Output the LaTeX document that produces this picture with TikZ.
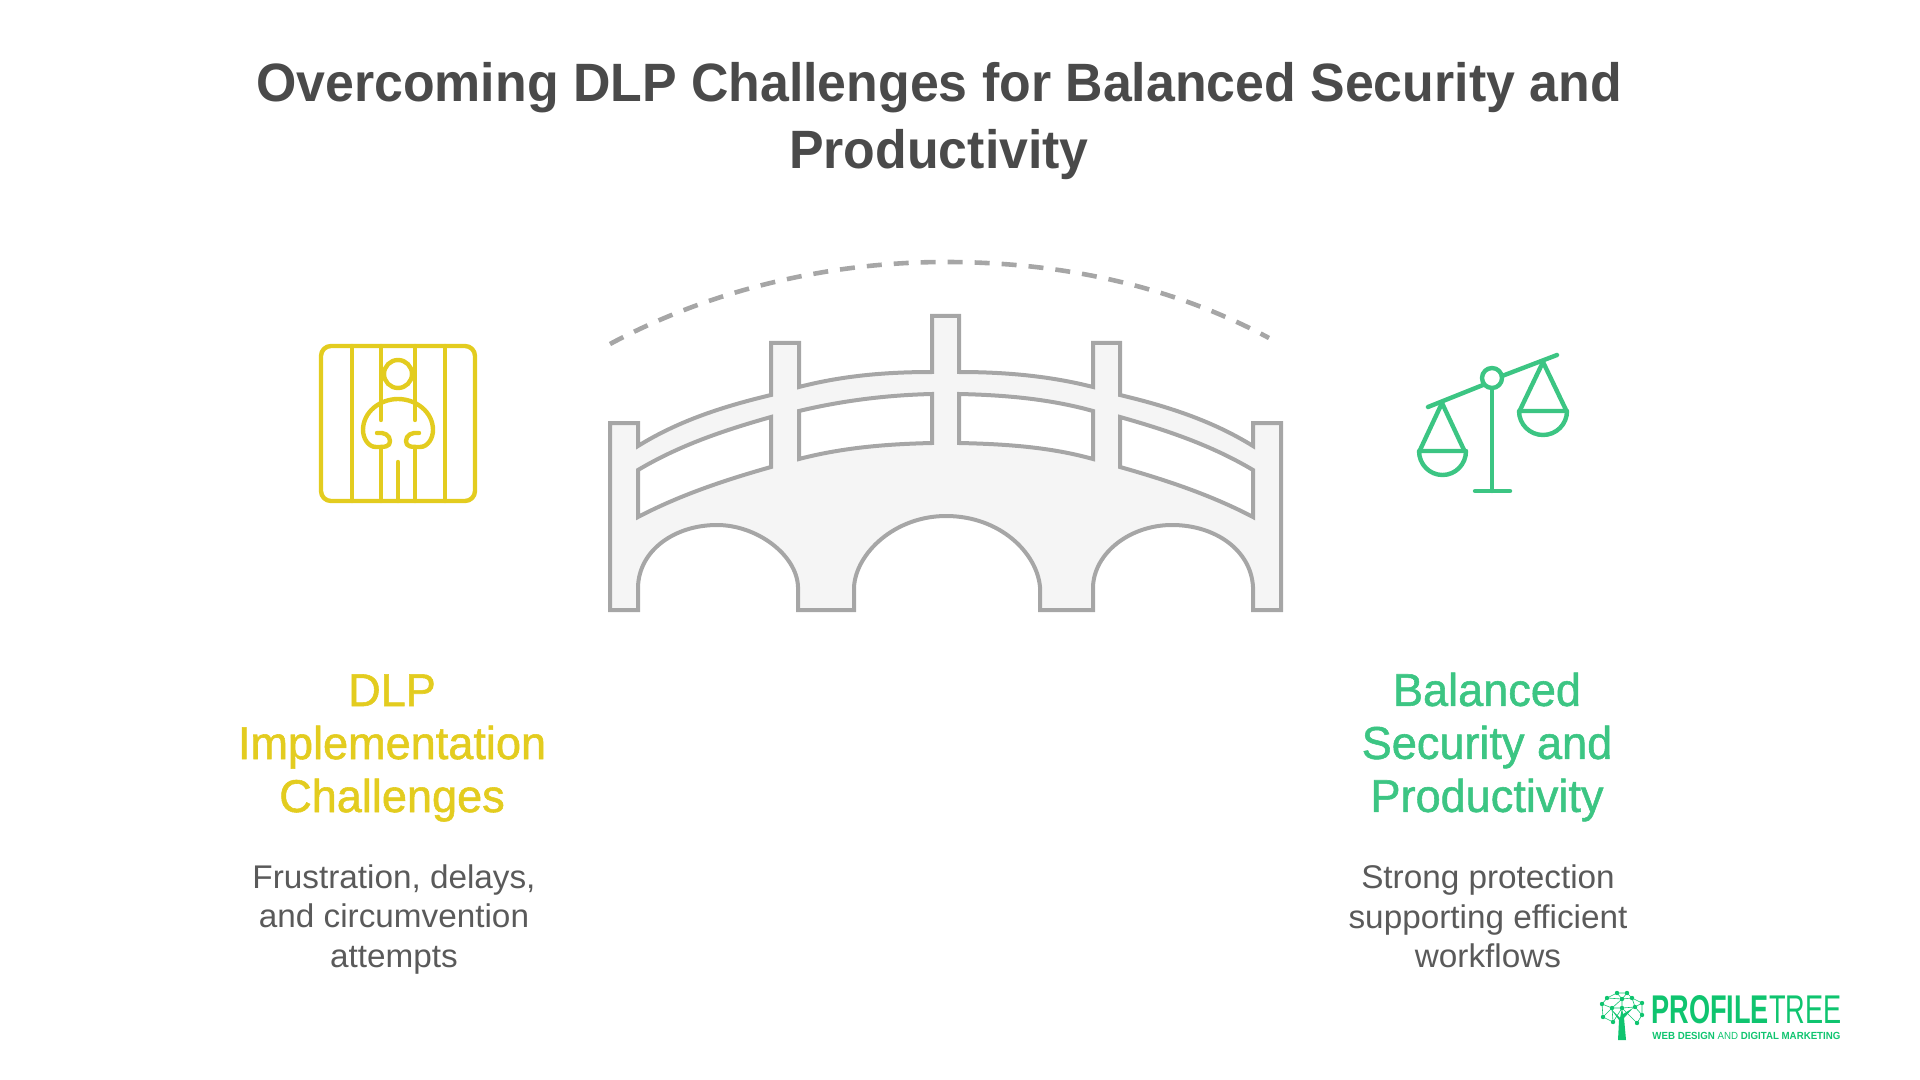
\documentclass[tikz,border=0pt]{standalone}
\usepackage{fontspec}
\setmainfont{Liberation Sans}
\newfontfamily\titlefont[FakeStretch=0.96]{Liberation Sans}
\newfontfamily\headfont[FakeStretch=0.98,FakeBold=1.2]{Liberation Sans}
\newfontfamily\bodyfont[FakeStretch=1.015]{Liberation Sans}
\definecolor{ttl}{HTML}{4A4A4A}
\definecolor{bodyc}{HTML}{5A5A5A}
\definecolor{ylw}{HTML}{E3CC1F}
\definecolor{grn}{HTML}{3CC583}
\definecolor{brfill}{HTML}{F5F5F5}
\definecolor{brline}{HTML}{A6A6A6}
\definecolor{logog}{HTML}{0FC46F}
\tikzset{
 titletext/.style={text=ttl,align=center,font=\fontsize{27}{33.5}\titlefont\bfseries},
 headtext/.style={align=center,font=\fontsize{23}{26.5}\headfont},
 bodytext/.style={text=bodyc,align=center,font=\fontsize{16.4}{19.8}\bodyfont},
 bridgeline/.style={draw=brline,line width=2pt,line join=miter},
 iconY/.style={draw=ylw,line width=2.2pt,line cap=round,line join=round},
 iconG/.style={draw=grn,line width=2.2pt,line cap=round,line join=round},
 logoline/.style={draw=logog,line width=0.3pt},
}
\begin{document}
\begin{tikzpicture}[x=0.5pt,y=-0.5pt]
\useasboundingbox (0,0) rectangle (1920,1080);
\node[titletext] (title) at (939,121) {Overcoming DLP Challenges for Balanced Security and\\Productivity};
% dashed arc
\draw[brline,line width=2.3pt,dash pattern=on 7.5pt off 6pt] (610,344) .. controls (720,285) and (840,262) .. (945,262) .. controls (1060,262) and (1170,285) .. (1269,338);
% bridge
\draw[bridgeline,fill=brfill,even odd rule]
 (610,610) -- (610,423) -- (638,423) -- (638,446)
 .. controls (680,420) and (725,406) .. (771,395) -- (771,343) -- (799,343) -- (799,387)
 .. controls (845,375) and (890,372) .. (932,372) -- (932,316) -- (959,316) -- (959,372)
 .. controls (1005,372) and (1050,376) .. (1093,387) -- (1093,343) -- (1120,343) -- (1120,395)
 .. controls (1166,406) and (1211,420) .. (1253,446) -- (1253,423) -- (1281,423) -- (1281,610) -- (1253,610) -- (1253,587)
 .. controls (1251,550) and (1215,525) .. (1172,525) .. controls (1130,525) and (1094,553) .. (1093,587) -- (1093,610) -- (1040,610) -- (1040,587)
 .. controls (1037,553) and (1000,516) .. (946,516) .. controls (895,516) and (856,553) .. (854,587) -- (854,610) -- (798,610) -- (798,587)
 .. controls (797,555) and (757,525) .. (717,525) .. controls (675,525) and (639,550) .. (638,587) -- (638,610) -- cycle
 (638,470) .. controls (680,445) and (725,430) .. (771,417) -- (771,467) .. controls (725,480) and (680,495) .. (638,517) -- cycle
 (799,411) .. controls (845,400) and (890,395) .. (932,394) -- (932,443) .. controls (890,444) and (845,447) .. (799,459) -- cycle
 (959,394) .. controls (1005,395) and (1050,399) .. (1093,411) -- (1093,459) .. controls (1050,447) and (1005,444) .. (959,443) -- cycle
 (1120,417) .. controls (1166,430) and (1211,445) .. (1253,470) -- (1253,517) .. controls (1211,495) and (1166,480) .. (1120,467) -- cycle;
% prison icon
\draw[iconY] (321,346) [rounded corners=5pt] -- (475,346) -- (475,501) -- (321,501) -- cycle;
\draw[iconY] (352,346) -- (352,501) (445,346) -- (445,501);
\draw[iconY] (381,346) -- (381,420) (381,447) -- (381,501) (415,346) -- (415,420) (415,447) -- (415,501);
\draw[iconY] (398,462) -- (398,501);
\draw[iconY] (398,374) circle[radius=14];
\draw[iconY] (377,433) .. controls (384,432) and (390,435) .. (390,441) .. controls (390,447) and (385,447) .. (376,447)
 .. controls (368,447) and (363,438) .. (363,430) .. controls (363,412) and (380,399) .. (398,399)
 .. controls (416,399) and (433,412) .. (433,430) .. controls (433,438) and (428,447) .. (420,447)
 .. controls (411,447) and (406,447) .. (406,441) .. controls (406,435) and (412,432) .. (419,433);
% scale icon
\draw[iconG] (1428,407) -- (1483,385) (1502,376) -- (1557,355);
\draw[iconG] (1492,378) circle[radius=10];
\draw[iconG] (1492,388) -- (1492,491) (1475,491) -- (1510,491);
\draw[iconG] (1420,450) -- (1442,403) -- (1464,450);
\draw[iconG] (1419,451) -- (1466,451) arc[start angle=0,end angle=180,x radius=23.5,y radius=24] -- cycle;
\draw[iconG] (1520,410) -- (1543,362) -- (1566,410);
\draw[iconG] (1519,411) -- (1567,411) arc[start angle=0,end angle=180,x radius=24,y radius=24] -- cycle;
% labels
\node[headtext,text=ylw] (lh) at (392,748) {DLP\\Implementation\\Challenges};
\node[headtext,text=grn] (rh) at (1487,747) {Balanced\\Security and\\Productivity};
\node[bodytext] (lb) at (394,919.5) {Frustration, delays,\\and circumvention\\attempts};
\node[bodytext] (rb) at (1488,916.5) {Strong protection\\supporting efficient\\workflows};
% logo
\fill[logog] (1618,1040) -- (1626,1040) -- (1624,1018) -- (1633,1008) -- (1623,1014) -- (1622,1008) -- (1620,1018) -- (1610,1008) -- (1619,1020) -- cycle;
\foreach \a/\b in {1602/1004,1617/993,1627/993,1622/999,1632/998,1642/1003,1635/1007,1642/1015,1637/1023,1612/1008,1622/1008,1603/1017,1613/1022,1607/998}{
  \fill[logog] (\a,\b) circle[radius=2.2];
}
\draw[logoline] (1602,1004) -- (1607,998) -- (1617,993) -- (1627,993) -- (1632,998) -- (1642,1003) -- (1642,1015) -- (1637,1023) -- (1622,1008) -- (1613,1022) -- (1603,1017) -- (1602,1004) -- (1612,1008) -- (1622,999) -- (1632,998) -- (1635,1007) -- (1622,1008) -- (1612,1008) -- (1603,1017)
 (1617,993) -- (1622,999) -- (1627,993) (1607,998) -- (1622,999) -- (1622,1008) (1635,1007) -- (1642,1015) (1635,1007) -- (1642,1003) (1612,1008) -- (1613,1022);
\node[inner sep=0pt,anchor=west,text=logog] (logo) at (1651,1010) {\resizebox{95pt}{14pt}{\bfseries PROFILE\mdseries TREE}};
\node[inner sep=0pt,anchor=west,text=logog] (logosub) at (1652,1036) {\resizebox{94pt}{3.6pt}{\bfseries WEB DESIGN \mdseries AND \bfseries DIGITAL MARKETING}};
\end{tikzpicture}
\end{document}
